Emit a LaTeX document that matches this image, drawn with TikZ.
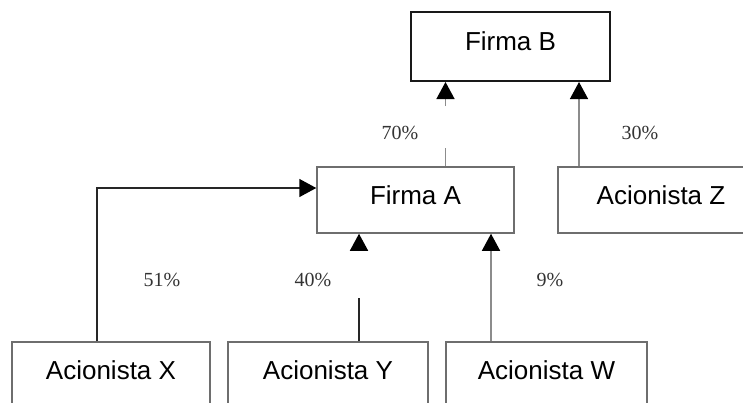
\documentclass[tikz,border=0pt]{standalone}
\usepackage{fontspec}
\setmainfont{Liberation Serif}
\newfontfamily\arialf{Liberation Sans}
\usetikzlibrary{arrows.meta}
\definecolor{boxgray}{HTML}{6E6E6E}
\definecolor{linegray}{HTML}{8C8C8C}
\tikzset{
  box/.style={draw=boxgray, line width=1.5pt, rectangle, minimum height=66pt, inner sep=0pt,
    font=\arialf\fontsize{26}{30}\selectfont, text depth=10pt, text height=18.5pt},
  gline/.style={draw=linegray, line width=1.4pt},
  bline/.style={draw=black!85, line width=1.5pt},
  tipped/.style={-{Triangle[width=18pt,length=17pt,color=black]}},
  pct/.style={font=\fontsize{20}{22}\selectfont, text=black!80, inner sep=0pt}
}
\begin{document}
\begin{tikzpicture}[x=1pt,y=-1pt]
\useasboundingbox (0,0) rectangle (743,402);
\clip (0,0) rectangle (743,402);
% boxes
\node[box, draw=black!90, line width=2pt, minimum width=199pt, minimum height=69pt] (B) at (510.5,46.5) {Firma B};
\node[box, minimum width=197pt] (A) at (415.5,200) {Firma A};
\node[box, minimum width=206pt] (Z) at (661,200) {Acionista Z};
\node[box, minimum width=198pt] (X) at (111,375) {Acionista X};
\node[box, minimum width=200pt] (Y) at (328,375) {Acionista Y};
\node[box, minimum width=201pt] (W) at (546.5,375) {Acionista W};
% helper coordinates
\coordinate (c70a) at (445.5,148);
\coordinate (c70b) at (445.5,106);
\coordinate (c30) at (579,0);
\coordinate (c51) at (97,188);
\coordinate (c40a) at (359,298);
\coordinate (c40b) at (359,251);
\coordinate (c9) at (491,0);
% connectors
\draw[gline] (A.north -| c70a) -- (c70a);
\draw[gline, tipped] (c70b) -- (B.south -| c70b);
\draw[gline, tipped] (Z.north -| c30) -- (B.south -| c30);
\draw[bline, tipped] (X.north -| c51) -- (c51) -- (A.west |- c51);
\draw[bline] (Y.north -| c40a) -- (c40a);
\draw[bline, tipped] (c40b) -- (A.south -| c40b);
\draw[gline, tipped] (W.north -| c9) -- (A.south -| c9);
% labels
\node[pct] (l70) at (400,133) {70\%};
\node[pct] (l30) at (640,133) {30\%};
\node[pct] (l51) at (162,280) {51\%};
\node[pct] (l40) at (313,280) {40\%};
\node[pct] (l9) at (550,280) {9\%};
\end{tikzpicture}
\end{document}
